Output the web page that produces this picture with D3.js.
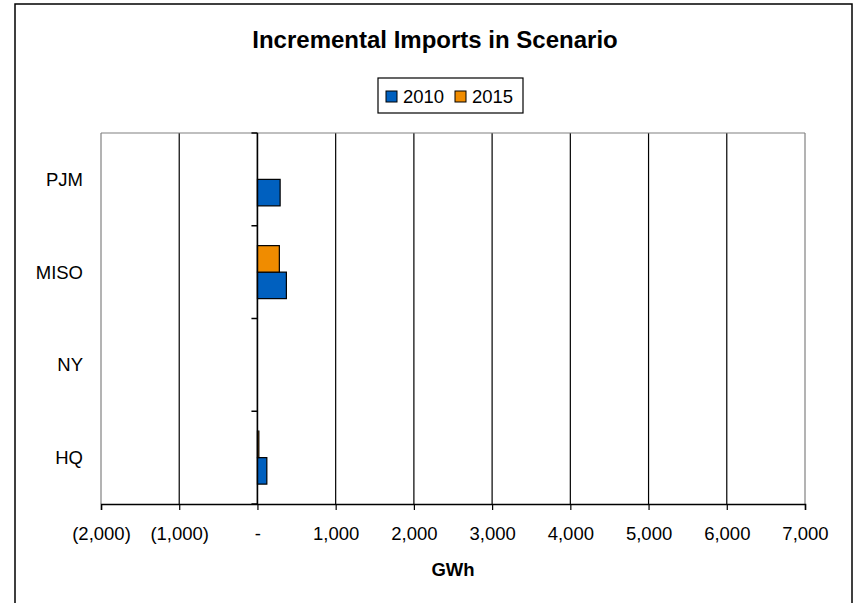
<!DOCTYPE html>
<html>
<head>
<meta charset="utf-8">
<script src="https://cdn.jsdelivr.net/npm/d3@7"></script>
<style>
  body { margin: 0; background: #fff; }
  text { font-family: "Liberation Sans", Arial, sans-serif; fill: #000; }
</style>
</head>
<body>
<div id="chart"></div>
<script>
// categories listed top to bottom as drawn (Excel draws first category at bottom)
var categories = ["PJM", "MISO", "NY", "HQ"];
var seriesNames = ["2010", "2015"];
var values2010 = { PJM: 290, MISO: 370, NY: 0, HQ: 120 };
var values2015 = { PJM: 0, MISO: 280, NY: 0, HQ: 18 };
var xTicks = [-2000, -1000, 0, 1000, 2000, 3000, 4000, 5000, 6000, 7000];
var colors = { "2010": "#0060BF", "2015": "#F08C00" };

var data = categories.map(function (c) {
    return { cat: c, "2010": values2010[c], "2015": values2015[c] };
});

var W = 855, H = 603;
var plot = { left: 101, right: 805, top: 133, bottom: 504 };

var svg = d3.select("#chart").append("svg")
    .attr("width", W)
    .attr("height", H);

// chart border
svg.append("rect")
    .attr("x", 15).attr("y", 4)
    .attr("width", 837).attr("height", H + 10)
    .attr("fill", "#fff")
    .attr("stroke", "#000")
    .attr("stroke-width", 1.5);

var x = d3.scaleLinear()
    .domain([-2000, 7000])
    .range([plot.left, plot.right]);

var y = d3.scaleBand()
    .domain(categories)
    .range([plot.top, plot.bottom])
    .padding(0);

// 2015 sits above 2010 inside each group
var ySub = d3.scaleBand()
    .domain(["2015", "2010"])
    .range([0, y.bandwidth()])
    .paddingInner(0)
    .paddingOuter(0.75);

function fmt(v) {
    if (v === 0) return "-";
    if (v < 0) return "(" + d3.format(",")(-v) + ")";
    return d3.format(",")(v);
}

// gridlines
svg.append("g")
    .selectAll("line")
    .data(xTicks)
    .enter()
    .append("line")
    .attr("x1", function (d) { return x(d); })
    .attr("x2", function (d) { return x(d); })
    .attr("y1", plot.top)
    .attr("y2", plot.bottom)
    .attr("stroke", function (d, i) { return (i === 0 || i === xTicks.length - 1) ? "#808080" : "#000"; })
    .attr("stroke-width", 1.2);

// plot top border
svg.append("line")
    .attr("x1", plot.left).attr("x2", plot.right)
    .attr("y1", plot.top).attr("y2", plot.top)
    .attr("stroke", "#808080")
    .attr("stroke-width", 1.2);

// bars
var groups = svg.append("g")
    .selectAll("g")
    .data(data)
    .enter()
    .append("g")
    .attr("transform", function (d) { return "translate(0," + y(d.cat) + ")"; });

groups.selectAll("rect")
    .data(function (d) {
        return seriesNames.map(function (s) { return { key: s, value: d[s] }; })
            .filter(function (e) { return e.value !== 0; });
    })
    .enter()
    .append("rect")
    .attr("x", function (d) { return x(Math.min(0, d.value)); })
    .attr("y", function (d) { return ySub(d.key); })
    .attr("width", function (d) { return Math.abs(x(d.value) - x(0)); })
    .attr("height", ySub.bandwidth())
    .attr("fill", function (d) { return colors[d.key]; })
    .attr("stroke", "#000")
    .attr("stroke-width", 1.2);

// x axis
var xAxis = svg.append("g")
    .attr("transform", "translate(0," + plot.bottom + ")")
    .call(d3.axisBottom(x).tickValues(xTicks).tickSize(6).tickPadding(17).tickFormat(fmt));
xAxis.select(".domain").attr("stroke", "#000").attr("stroke-width", 1.5);
xAxis.selectAll(".tick line").attr("stroke", "#000").attr("stroke-width", 1.2);
xAxis.selectAll(".tick text")
    .style("font-family", "Liberation Sans, Arial, sans-serif")
    .style("font-size", "18.5px")
    .attr("fill", "#000");

// category axis at zero
var yAxisG = svg.append("g");
yAxisG.append("line")
    .attr("x1", x(0)).attr("x2", x(0))
    .attr("y1", plot.top).attr("y2", plot.bottom)
    .attr("stroke", "#000")
    .attr("stroke-width", 1.5);
var bounds = categories.map(function (c) { return y(c); }).concat([plot.bottom]);
yAxisG.selectAll(".ctick")
    .data(bounds)
    .enter()
    .append("line")
    .attr("class", "ctick")
    .attr("x1", x(0) - 6).attr("x2", x(0))
    .attr("y1", function (d) { return d; })
    .attr("y2", function (d) { return d; })
    .attr("stroke", "#000")
    .attr("stroke-width", 1.5);

// category labels at low position
svg.append("g")
    .selectAll("text")
    .data(categories)
    .enter()
    .append("text")
    .attr("x", 83)
    .attr("y", function (d) { return y(d) + y.bandwidth() / 2; })
    .attr("dy", "0.35em")
    .attr("text-anchor", "end")
    .style("font-size", "18.5px")
    .text(function (d) { return d; });

// title
svg.append("text")
    .attr("x", 435)
    .attr("y", 48)
    .attr("text-anchor", "middle")
    .style("font-size", "24px")
    .style("font-weight", "bold")
    .text("Incremental Imports in Scenario");

// axis title
svg.append("text")
    .attr("x", (plot.left + plot.right) / 2)
    .attr("y", 576)
    .attr("text-anchor", "middle")
    .style("font-size", "18.5px")
    .style("font-weight", "bold")
    .text("GWh");

// legend
var legend = svg.append("g").attr("transform", "translate(378,78)");
legend.append("rect")
    .attr("width", 145).attr("height", 35)
    .attr("fill", "#fff")
    .attr("stroke", "#000")
    .attr("stroke-width", 1.2);
var li = legend.selectAll(".li")
    .data(seriesNames)
    .enter()
    .append("g")
    .attr("class", "li")
    .attr("transform", function (d, i) { return "translate(" + (8 + i * 69) + ",0)"; });
li.append("rect")
    .attr("y", 13)
    .attr("width", 11).attr("height", 11)
    .attr("fill", function (d) { return colors[d]; })
    .attr("stroke", "#000")
    .attr("stroke-width", 1);
li.append("text")
    .attr("x", 17)
    .attr("y", 25)
    .style("font-size", "18.5px")
    .text(function (d) { return d; });
</script>
</body>
</html>
